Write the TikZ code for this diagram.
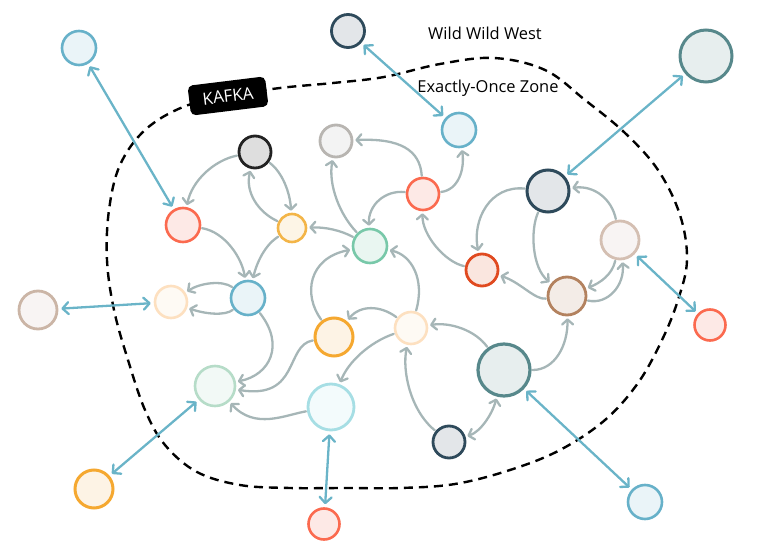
\documentclass[tikz,border=0pt]{standalone}
\usepackage{fontspec}
\setmainfont{Open Sans}
\usetikzlibrary{arrows.meta}
\definecolor{grayL}{HTML}{A6B6B7}
\definecolor{blueL}{HTML}{6AB4C8}
\definecolor{cBlueD}{HTML}{67B1C9}\definecolor{cBlueF}{HTML}{EAF4F8}
\definecolor{cDarkD}{HTML}{2E4A5B}\definecolor{cDarkF}{HTML}{E3E6E9}
\definecolor{cTealD}{HTML}{57888B}\definecolor{cTealF}{HTML}{E7EEEE}
\definecolor{cPinkD}{HTML}{D4BFB2}\definecolor{cPinkF}{HTML}{F8F4F3}
\definecolor{cPink2D}{HTML}{CBB5A6}
\definecolor{cOrD}{HTML}{F5A830}\definecolor{cOrF}{HTML}{FDF3E5}
\definecolor{cYeD}{HTML}{F3B548}\definecolor{cYeF}{HTML}{FDF5E6}
\definecolor{cRedD}{HTML}{FB6A4F}\definecolor{cRedF}{HTML}{FDE9E6}
\definecolor{cBlkD}{HTML}{222222}\definecolor{cBlkF}{HTML}{DEDEDE}
\definecolor{cGrD}{HTML}{B8B5B1}\definecolor{cGrF}{HTML}{F3F3F3}
\definecolor{cGnD}{HTML}{78C8A9}\definecolor{cGnF}{HTML}{E9F6F1}
\definecolor{cPoD}{HTML}{FDE0C0}\definecolor{cPoF}{HTML}{FEFAF4}
\definecolor{cPgD}{HTML}{B6DCC8}\definecolor{cPgF}{HTML}{F2F9F6}
\definecolor{cCyD}{HTML}{A6DEE4}\definecolor{cCyF}{HTML}{F3FBFC}
\definecolor{cRoD}{HTML}{E04A20}\definecolor{cRoF}{HTML}{FAE6DF}
\definecolor{cBrD}{HTML}{B3825F}\definecolor{cBrF}{HTML}{F3ECE7}
\tikzset{
  nd/.style n args={3}{circle, draw=c#1D, fill=c#1F, minimum size=#2bp, inner sep=0pt, line width=#3bp},
  ga/.style={draw=grayL, line width=2.3bp, line cap=round, -{Straight Barb[length=5bp,width=11bp,line cap=round,line join=round]}, shorten >=2bp, shorten <=1bp},
  gab/.style={draw=grayL, line width=2.3bp, line cap=round, {Straight Barb[length=5bp,width=11bp,line cap=round,line join=round]}-{Straight Barb[length=5bp,width=11bp,line cap=round,line join=round]}, shorten >=2bp, shorten <=2bp},
  bl/.style={draw=blueL, line width=2.3bp, line cap=round, {Straight Barb[length=6bp,width=12bp,line cap=round,line join=round]}-{Straight Barb[length=6bp,width=12bp,line cap=round,line join=round]}, shorten >=3bp, shorten <=3bp},
  zone/.style={draw=black, line width=2.4bp, dash pattern=on 9bp off 6bp},
  lbl/.style={font=\fontsize{16.5}{19}\selectfont, text=black, inner sep=0pt},
}
\begin{document}
\begin{tikzpicture}[x=1bp,y=-1bp]
\useasboundingbox (0,0) rectangle (768,554);
% zone boundary
\draw[zone] plot[smooth cycle, tension=0.6] coordinates {
 (183,107) (228,96) (280,88) (333,83) (384,77) (440,64) (494,58) (545,70) (585,100)
 (625,133) (658,170) (680,215) (687,260) (678,300) (662,340) (638,383) (605,420)
 (560,450) (510,470) (455,484) (400,488) (345,488) (290,488) (240,485) (197,472)
 (165,445) (145,410) (128,360) (114,310) (107,260) (109,210) (120,165) (145,130)};
\node[fill=black, rounded corners=5bp, text=white, rotate=7, minimum width=78bp, minimum height=30bp, inner sep=0pt, font=\fontsize{17}{19}\selectfont] (kafka) at (228,96) {KAFKA};
\node[lbl] (wild) at (485,33) {Wild Wild West};
\node[lbl] (zonel) at (488,88) {Exactly-Once Zone};
% outer nodes
\node[nd={Blue}{34}{2.6}] (O1) at (79,48) {};
\node[nd={Dark}{33}{2.8}] (O2) at (348,31) {};
\node[nd={Teal}{52}{3}] (O3) at (706,56) {};
\node[circle, draw=cPink2D, fill=cPinkF, minimum size=38bp, inner sep=0pt, line width=2.8bp] (O4) at (38,310) {};
\node[nd={Or}{38}{3}] (O5) at (94,489) {};
\node[nd={Red}{31}{2.6}] (O6) at (324,524) {};
\node[nd={Blue}{34}{2.6}] (O7) at (645,502) {};
\node[nd={Red}{31}{2.6}] (O8) at (710,325) {};
% inner nodes
\node[nd={Blk}{32}{2.8}] (A) at (255,152) {};
\node[nd={Red}{34}{2.6}] (B) at (183,225) {};
\node[nd={Ye}{28}{2.6}] (C) at (292,228) {};
\node[nd={Blue}{34}{2.6}] (D) at (248,298) {};
\node[nd={Po}{32}{2.6}] (E) at (171,302) {};
\node[nd={Pg}{40}{2.6}] (F) at (215,386) {};
\node[nd={Gr}{32}{2.8}] (G) at (336,141) {};
\node[nd={Gn}{34}{2.6}] (H) at (370,246) {};
\node[nd={Red}{32}{2.6}] (I) at (423,194) {};
\node[nd={Blue}{34}{2.6}] (J) at (459,130) {};
\node[nd={Dark}{42}{3}] (K) at (548,191) {};
\node[nd={Pink}{38}{2.8}] (L) at (620,240) {};
\node[nd={Ro}{32}{2.8}] (M) at (482,270) {};
\node[nd={Br}{38}{2.8}] (N) at (567,296) {};
\node[nd={Or}{38}{3}] (P) at (334,337) {};
\node[nd={Po}{32}{2.6}] (Q) at (411,328) {};
\node[nd={Cy}{46}{2.8}] (R) at (331,407) {};
\node[nd={Teal}{52}{3.2}] (S) at (504,370) {};
\node[nd={Dark}{32}{2.8}] (T) at (449,442) {};
% blue links
\draw[bl] (O1) -- (B);
\draw[bl] (O2) -- (J);
\draw[bl] (O3) -- (K);
\draw[bl] (O4) -- (E);
\draw[bl] (O5) -- (F);
\draw[bl] (O6) -- (R);
\draw[bl] (O7) -- (S);
\draw[bl] (O8) -- (L);
% gray links
\draw[ga] (A) .. controls (215,160) and (192,180) .. (B);
\draw[ga] (C) .. controls (258,212) and (245,192) .. (A);
\draw[ga] (A) .. controls (282,172) and (290,192) .. (C);
\draw[ga] (B) .. controls (225,232) and (242,258) .. (D);
\draw[ga] (C) .. controls (265,245) and (257,262) .. (D);
\draw[ga] (H) .. controls (340,230) and (325,227) .. (C);
\draw[ga] (D) .. controls (222,280) and (200,283) .. (E);
\draw[ga] (D) .. controls (225,316) and (205,314) .. (E);
\draw[ga] (D) .. controls (285,345) and (270,375) .. (F);
\draw[ga] (P) .. controls (285,345) and (300,400) .. (F);
\draw[ga] (R) .. controls (285,415) and (255,430) .. (F);
\draw[ga] (H) .. controls (340,215) and (328,185) .. (G);
\draw[ga] (I) .. controls (420,150) and (400,138) .. (G);
\draw[ga] (I) .. controls (385,190) and (368,205) .. (H);
\draw[ga] (I) .. controls (458,190) and (465,170) .. (J);
\draw[ga] (M) .. controls (445,262) and (422,235) .. (I);
\draw[ga] (K) .. controls (490,185) and (472,220) .. (M);
\draw[ga] (K) .. controls (530,230) and (532,268) .. (N);
\draw[ga] (L) .. controls (612,200) and (595,185) .. (K);
\draw[ga] (L) .. controls (612,275) and (600,283) .. (N);
\draw[ga] (N) .. controls (608,305) and (625,285) .. (L);
\draw[ga] (N) .. controls (535,300) and (520,282) .. (M);
\draw[ga] (S) .. controls (555,370) and (568,345) .. (N);
\draw[ga] (S) .. controls (475,330) and (450,322) .. (Q);
\draw[ga] (T) .. controls (410,410) and (402,370) .. (Q);
\draw[gab] (T) .. controls (480,432) and (492,415) .. (S);
\draw[ga] (Q) .. controls (380,305) and (360,305) .. (P);
\draw[ga] (Q) .. controls (370,342) and (348,362) .. (R);
\draw[ga] (Q) .. controls (425,280) and (412,255) .. (H);
\draw[ga] (P) .. controls (303,295) and (308,258) .. (H);
\end{tikzpicture}
\end{document}
